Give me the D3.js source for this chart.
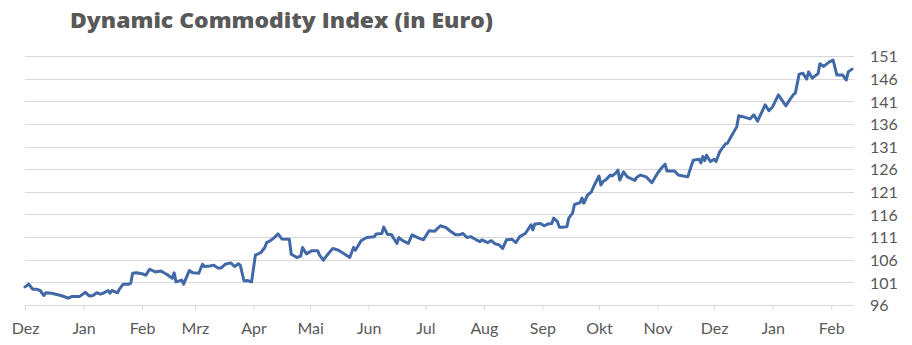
<!DOCTYPE html>
<html>
<head>
<meta charset="utf-8">
<script src="https://cdn.jsdelivr.net/npm/d3@7"></script>
<style>
  html, body { margin: 0; padding: 0; background: #ffffff; }
  svg { display: block; }
</style>
</head>
<body>
<svg id="chart" width="912" height="345"></svg>
<script>
// ---- Data ----
const title = "Dynamic Commodity Index (in Euro)";
const startDate = "2021-12-01";
// days since startDate
const dayOffsets = [
  0, 2, 4, 6, 8, 10, 11, 14, 19, 23, 25, 29, 32, 34, 36, 38, 40, 42, 44, 45,
  46, 49, 50, 52, 55, 56, 57, 59, 62, 64, 66, 69, 72, 75, 78, 79, 80, 83, 84, 87,
  89, 92, 94, 95, 98, 100, 102, 104, 106, 109, 111, 113, 114, 116, 118, 120, 122, 125, 127, 128,
  130, 132, 134, 136, 140, 141, 144, 146, 147, 149, 152, 155, 156, 158, 160, 163, 166, 169, 172, 174,
  175, 178, 181, 185, 186, 189, 190, 192, 194, 197, 198, 200, 203, 205, 208, 211, 214, 217, 220, 223,
  225, 228, 230, 232, 234, 236, 239, 241, 242, 245, 247, 249, 251, 253, 255, 258, 260, 262, 265, 268,
  269, 270, 273, 275, 277, 279, 280, 282, 283, 285, 287, 288, 290, 291, 294, 295, 296, 298, 300, 301,
  304, 305, 306, 308, 310, 311, 313, 314, 315, 317, 319, 323, 324, 326, 329, 332, 335, 337, 339, 340,
  344, 346, 351, 353, 354, 357, 358, 359, 360, 361, 363, 365, 366, 368, 371, 372, 374, 377, 378, 381,
  384, 386, 388, 392, 394, 396, 399, 403, 405, 407, 408, 410, 412, 414, 415, 417, 420, 421, 423, 426,
  428, 430, 433, 435, 436, 438
];
const indexValues = [
  100.0, 100.6, 99.5, 99.5, 99.2, 98.1, 98.7, 98.6, 98.1, 97.5, 97.9, 97.9, 98.8, 98.0, 98.1, 98.7, 98.4, 98.7, 99.2, 98.6,
  99.2, 98.7, 99.5, 100.6, 100.6, 100.8, 103.0, 103.1, 102.9, 102.6, 103.9, 103.3, 103.5, 102.8, 101.9, 103.1, 101.1, 101.5, 100.6, 103.6,
  103.1, 103.0, 105.0, 104.5, 104.6, 104.8, 104.2, 104.2, 105.0, 105.3, 104.5, 105.1, 104.8, 101.3, 101.4, 101.1, 107.0, 107.6, 108.7, 109.8,
  110.2, 110.9, 111.7, 110.6, 110.5, 107.2, 106.5, 106.8, 108.7, 107.3, 108.0, 108.0, 107.0, 105.9, 107.0, 108.5, 108.1, 107.3, 106.5, 108.7,
  108.1, 110.2, 110.9, 111.1, 111.7, 111.8, 113.2, 111.6, 111.6, 109.6, 110.9, 110.2, 109.6, 111.5, 110.9, 110.4, 112.4, 112.3, 113.5, 113.1,
  112.4, 111.5, 111.5, 111.8, 110.9, 111.1, 110.4, 110.0, 110.4, 109.8, 110.2, 109.5, 109.3, 108.5, 110.4, 110.5, 109.8, 111.1, 111.8, 113.7,
  112.6, 113.9, 114.0, 113.5, 113.9, 114.0, 115.2, 114.4, 113.2, 113.2, 113.3, 115.2, 116.3, 118.2, 118.6, 119.6, 118.5, 120.3, 121.0, 122.0,
  124.5, 122.5, 123.2, 123.8, 124.7, 124.5, 125.2, 125.8, 123.6, 125.4, 124.3, 123.5, 124.2, 124.7, 124.3, 123.0, 125.1, 126.2, 127.1, 125.6,
  125.6, 124.7, 124.3, 126.9, 128.0, 128.2, 127.4, 128.8, 127.9, 129.1, 127.7, 128.2, 127.7, 129.9, 131.6, 131.7, 133.2, 135.4, 137.8, 137.5,
  137.1, 138.0, 136.6, 140.2, 138.9, 139.8, 142.4, 140.0, 141.3, 142.5, 142.8, 147.0, 147.2, 145.9, 147.5, 146.1, 147.1, 149.3, 148.7, 149.7,
  150.1, 146.8, 146.8, 145.7, 147.5, 148.1
];
const monthTickDates = [
  "2021-12-01", "2022-01-01", "2022-02-01", "2022-03-01", "2022-04-01", "2022-05-01", "2022-06-01", "2022-07-01",
  "2022-08-01", "2022-09-01", "2022-10-01", "2022-11-01", "2022-12-01", "2023-01-01", "2023-02-01"
];
const monthTickLabels = ["Dez", "Jan", "Feb", "Mrz", "Apr", "Mai", "Jun", "Jul", "Aug", "Sep", "Okt", "Nov", "Dez", "Jan", "Feb"];
const yTickValues = [96, 101, 106, 111, 116, 121, 126, 131, 136, 141, 146, 151];

// ---- Build ----
(function () {
const parse = d3.utcParse("%Y-%m-%d");
const start = parse(startDate);
const data = dayOffsets.map((d, i) => ({ date: d3.utcDay.offset(start, d), value: indexValues[i] }));
const ticks = monthTickDates.map(parse);

const svg = d3.select("#chart");
const mLeft = 25, mRight = 852, mTop = 56, mBottom = 305;

const x = d3.scaleUtc()
  .domain([start, data[data.length - 1].date])
  .range([mLeft, mRight]);
const y = d3.scaleLinear().domain([96, 151]).range([mBottom, mTop]);

const gridColor = "#d9d9d9";
const textColor = "#595959";
const font = "Lato, 'Open Sans', sans-serif";

// gridlines
svg.append("g").selectAll("line")
  .data(yTickValues)
  .join("line")
  .attr("x1", mLeft).attr("x2", mRight + 2)
  .attr("y1", d => Math.round(y(d)) + 0.5).attr("y2", d => Math.round(y(d)) + 0.5)
  .attr("stroke", gridColor).attr("stroke-width", 1);

// right labels
const yAxis = d3.axisRight(y).tickValues(yTickValues).tickSize(0).tickPadding(0).tickFormat(d3.format("d"));
const gy = svg.append("g").attr("transform", `translate(${mRight + 18},0)`).call(yAxis);
gy.select(".domain").remove();
gy.selectAll("text")
  .attr("fill", textColor)
  .style("font-family", font)
  .style("font-size", "16px")
  .attr("dy", "0.36em");

// x axis (ticks + labels)
const xAxis = d3.axisBottom(x)
  .tickValues(ticks)
  .tickSize(5)
  .tickPadding(12)
  .tickFormat((d, i) => monthTickLabels[i]);
const gx = svg.append("g").attr("transform", `translate(0,${Math.round(y(96)) + 0.5})`).call(xAxis);
gx.select(".domain").remove();
gx.selectAll(".tick line").attr("stroke", gridColor);
gx.selectAll("text")
  .attr("fill", textColor)
  .style("font-family", font)
  .style("font-size", "16px");

// line
const line = d3.line()
  .x(d => x(d.date))
  .y(d => y(d.value));
svg.append("path")
  .datum(data)
  .attr("d", line)
  .attr("fill", "none")
  .attr("stroke", "#4169a8")
  .attr("stroke-width", 3)
  .attr("stroke-linejoin", "round")
  .attr("stroke-linecap", "round");

// title
svg.append("text")
  .attr("x", 70)
  .attr("y", 28)
  .attr("textLength", 423)
  .attr("lengthAdjust", "spacingAndGlyphs")
  .attr("fill", textColor)
  .style("font-family", "'Open Sans', Lato, sans-serif")
  .style("font-weight", 800)
  .style("font-size", "21px")
  .text(title);
})();
</script>
</body>
</html>
